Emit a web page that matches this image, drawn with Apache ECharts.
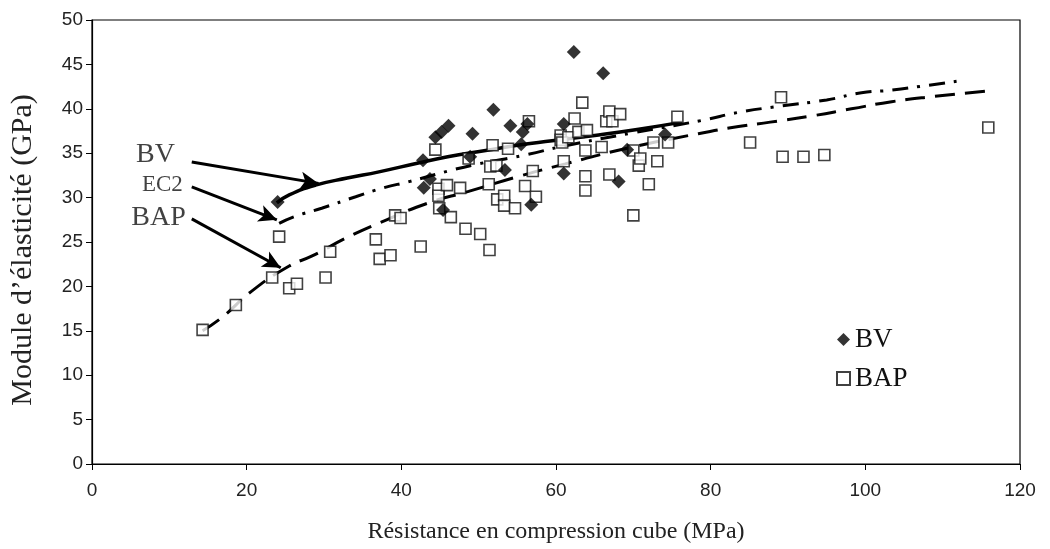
<!DOCTYPE html>
<html><head><meta charset="utf-8">
<script src="https://cdn.jsdelivr.net/npm/echarts@6/dist/echarts.min.js"></script>
<style>html,body{margin:0;padding:0;background:#fff}#c{width:1050px;height:549px}</style>
</head><body><div id="c"></div>
<script>
// Measured points: [compression strength MPa, modulus GPa]
const bvPoints = [[24.0,29.5],[62.3,46.4],[66.1,44.0],[51.9,39.9],[46.1,38.1],[45.2,37.4],[44.4,36.8],[49.2,37.2],[54.1,38.1],[56.3,38.3],[55.7,37.4],[61.0,38.3],[42.8,34.2],[48.9,34.6],[55.5,36.0],[53.4,33.1],[43.7,32.1],[42.9,31.1],[61.0,32.7],[56.8,29.2],[45.4,28.6],[74.1,37.1],[69.2,35.4],[68.1,31.8]];
const bapPoints = [[14.3,15.1],[18.6,17.9],[23.3,21.0],[25.5,19.8],[26.5,20.3],[24.2,25.6],[30.2,21.0],[30.8,23.9],[36.7,25.3],[37.2,23.1],[38.6,23.5],[39.2,28.0],[39.9,27.7],[42.5,24.5],[44.4,35.4],[44.8,31.0],[44.8,30.2],[44.9,28.8],[45.9,31.4],[46.4,27.8],[47.6,31.1],[48.3,26.5],[48.7,34.4],[50.2,25.9],[51.3,31.5],[51.4,24.1],[51.5,33.5],[51.8,35.9],[52.3,33.6],[52.4,29.8],[53.3,30.2],[53.3,29.1],[53.8,35.5],[54.7,28.8],[56.0,31.3],[56.5,38.6],[57.0,33.0],[57.4,30.1],[60.6,37.0],[60.6,36.5],[60.8,36.2],[61.0,34.1],[61.6,36.8],[62.4,38.9],[62.9,37.4],[63.4,40.7],[63.8,35.3],[63.8,32.4],[63.8,30.8],[64.0,37.6],[65.9,35.7],[66.5,38.6],[66.9,39.7],[66.9,32.6],[67.3,38.6],[68.3,39.4],[70.0,35.3],[70.0,28.0],[70.7,33.6],[70.9,34.4],[72.0,31.5],[72.6,36.2],[73.1,34.1],[74.5,36.2],[75.7,39.1],[85.1,36.2],[89.1,41.3],[89.3,34.6],[92.0,34.6],[94.7,34.8],[115.9,37.9]];
// Fitted curves
const bvCurve = [[23.9,29.4],[25.5,30.3],[28.9,31.4],[33.0,32.2],[37.1,32.9],[42.2,33.9],[46.0,34.6],[50.9,35.3],[55.0,35.9],[59.5,36.4],[65.0,37.0],[70.7,37.7],[76.3,38.5]];
const ec2Curve = [[24.2,27.1],[26.3,27.9],[29.7,28.8],[34.1,30.1],[37.7,31.1],[41.0,31.8],[46.1,33.0],[50.0,33.8],[56.0,34.8],[61.0,35.8],[70.0,37.3],[78.9,38.7],[83.6,39.6],[89.0,40.3],[95.0,41.0],[99.5,41.8],[103.4,42.1],[107.7,42.6],[111.8,43.1]];
const bapCurve = [[14.3,15.0],[16.8,16.5],[20.7,19.5],[25.5,22.3],[28.4,23.4],[33.2,25.6],[38.1,27.5],[43.5,29.4],[48.7,30.7],[55.2,32.4],[61.2,33.8],[68.9,35.5],[78.4,37.2],[83.6,38.0],[87.7,38.5],[93.1,39.2],[98.2,40.0],[103.4,40.8],[109.0,41.4],[115.7,42.0]];
// Annotation labels and arrows (data coordinates)
const annotLabels = [{name:'BV', value:[8.2,34.8], size:28},{name:'EC2', value:[9.1,31.4], size:23},{name:'BAP', value:[8.6,27.7], size:28}];
const annotArrows = [[[12.9,34.0],[29.3,31.6]],[[12.9,31.2],[23.9,27.5]],[[12.9,27.6],[24.4,22.1]]];
const xTicks = {min:0, max:120, interval:20};
const yTicks = {min:0, max:50, interval:5};

const chart = echarts.init(document.getElementById('c'), null, {renderer:'canvas'});
const serif = '"Liberation Serif","DejaVu Serif",serif';
const sans = '"Liberation Sans",Arial,sans-serif';
chart.setOption({
  animation:false,
  backgroundColor:'#fff',
  grid:{left:91, right:30, top:20, bottom:80, show:true, borderColor:'#000', borderWidth:1.2},
  xAxis:{type:'value', min:xTicks.min, max:xTicks.max, interval:xTicks.interval,
    name:'Résistance en compression cube (MPa)', nameLocation:'middle', nameGap:56,
    nameTextStyle:{fontFamily:serif, fontSize:24, color:'#222'},
    axisLine:{lineStyle:{color:'#000', width:1.2}}, axisTick:{inside:false, length:6, lineStyle:{color:'#000'}},
    axisLabel:{fontFamily:sans, fontSize:19, color:'#222', margin:17}, splitLine:{show:false}},
  yAxis:{type:'value', min:yTicks.min, max:yTicks.max, interval:yTicks.interval,
    name:'Module d\u2019élasticité (GPa)', nameLocation:'middle', nameGap:54, nameRotate:90,
    nameTextStyle:{fontFamily:serif, fontSize:30, color:'#222', padding:[0,16,0,0]},
    axisLine:{show:true, lineStyle:{color:'#000', width:1.2}}, axisTick:{show:true, length:6, lineStyle:{color:'#000'}},
    axisLabel:{fontFamily:sans, fontSize:19, color:'#222', margin:9}, splitLine:{show:false}},
  legend:{data:[{name:'BV', icon:'diamond'},{name:'BAP', icon:'rect'}], orient:'vertical', left:831, top:321, itemGap:12,
    itemWidth:13, itemHeight:13, textStyle:{fontFamily:serif, fontSize:27, color:'#111'}},
  series:[
    {name:'BV fit', type:'line', data:bvCurve, smooth:true, showSymbol:false, z:3,
      lineStyle:{color:'#000', width:3.5}},
    {name:'EC2', type:'line', data:ec2Curve, smooth:true, showSymbol:false, z:3,
      lineStyle:{color:'#000', width:3, type:[16,9,3,9]}},
    {name:'BAP fit', type:'line', data:bapCurve, smooth:true, showSymbol:false, z:3,
      lineStyle:{color:'#000', width:3, type:[20,10]}},
    {name:'BAP', type:'scatter', data:bapPoints, symbol:'rect', symbolSize:11, z:4,
      itemStyle:{color:'#fff', borderColor:'#111', borderWidth:1.6}},
    {name:'BV', type:'scatter', data:bvPoints, symbol:'diamond', symbolSize:14, z:5,
      itemStyle:{color:'#000'}},
    {name:'annot', type:'scatter', symbolSize:0, z:6, silent:true,
      data:annotLabels.map(a=>({name:a.name, value:a.value, label:{fontSize:a.size}})),
      label:{show:true, formatter:p=>p.name, position:'inside', fontFamily:serif, color:'#111'},
      markLine:{silent:true, symbol:['none','arrow'], symbolSize:[13,18], label:{show:false},
        lineStyle:{color:'#000', width:3, type:'solid'},
        data:annotArrows.map(a=>[{coord:a[0]},{coord:a[1]}])}}
  ]
});
</script></body></html>
